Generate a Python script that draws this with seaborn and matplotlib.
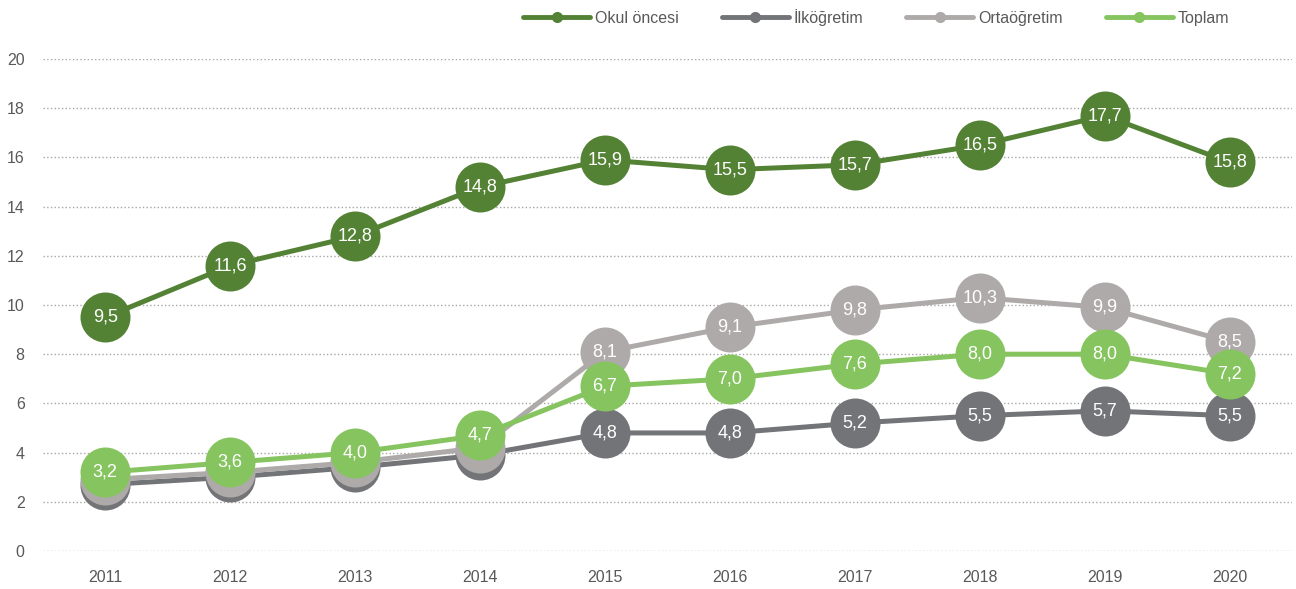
import numpy as np
import pandas as pd
import matplotlib.pyplot as plt
import seaborn as sns
from matplotlib.lines import Line2D
from matplotlib.ticker import FixedLocator

sns.set_style('white')
plt.rcParams['font.family'] = ['Liberation Sans', 'DejaVu Sans']

# veriler
years = ['2011', '2012', '2013', '2014', '2015', '2016', '2017', '2018', '2019', '2020']
okul_oncesi = [9.5, 11.6, 12.8, 14.8, 15.9, 15.5, 15.7, 16.5, 17.7, 15.8]
ilkogretim = [2.7, 3.0, 3.4, 3.9, 4.8, 4.8, 5.2, 5.5, 5.7, 5.5]
ortaogretim = [2.9, 3.2, 3.6, 4.2, 8.1, 9.1, 9.8, 10.3, 9.9, 8.5]
toplam = [3.2, 3.6, 4.0, 4.7, 6.7, 7.0, 7.6, 8.0, 8.0, 7.2]

series_names = ['Okul öncesi', 'İlköğretim', 'Ortaöğretim', 'Toplam']
series_vals = [okul_oncesi, ilkogretim, ortaogretim, toplam]
colors = ['#548235', '#737477', '#AEAAAA', '#86C45F']
zorders = [6, 3, 4, 5]  # ilköğretim en altta
# 2011-2014 arası gri daireler Toplam'ın altında kalıyor, etiketleri görünmüyor
hidden_years = {'İlköğretim': years[:4], 'Ortaöğretim': years[:4]}

x = np.arange(len(years))

fig, ax = plt.subplots(figsize=(12.96, 5.89), dpi=100)
fig.subplots_adjust(left=0.033, right=0.997, bottom=0.0645, top=0.8998)

for name, vals, col, z in zip(series_names, series_vals, colors, zorders):
    df = pd.DataFrame({'x': x, 'y': vals})
    sns.lineplot(data=df, x='x', y='y', ax=ax, color=col, linewidth=3.6,
                 marker='o', markersize=36, markeredgewidth=0, zorder=z)
    for xi, yr, v in zip(x, years, vals):
        if yr in hidden_years.get(name, []):
            continue
        ax.text(xi, v, f'{v:.1f}'.replace('.', ','), ha='center', va='center',
                color='white', fontsize=13, zorder=z + 0.5)

ax.set_xlim(-0.5, 9.5)
ax.set_ylim(0, 20)
ax.set_yticks(np.arange(0, 21, 2))
ax.set_xticks(x)
ax.set_xticklabels(years)
ax.xaxis.set_minor_locator(FixedLocator(np.arange(-0.5, 10, 1)))
ax.tick_params(axis='x', which='major', length=0, pad=14, labelsize=11.5, labelcolor='#595959')
ax.tick_params(axis='x', which='minor', length=4, width=0.9, color='#A6A6A6', direction='out')
ax.tick_params(axis='y', length=0, pad=13, labelsize=11.5, labelcolor='#595959')
ax.grid(axis='y', linestyle=':', color='#A6A6A6', linewidth=1)
ax.set_axisbelow(True)
for s in ax.spines.values():
    s.set_visible(False)
ax.set_xlabel('')
ax.set_ylabel('')

handles = [Line2D([0], [0], color=c, linewidth=3.5, marker='o', markersize=7)
           for c in colors]
fig.legend(handles, series_names, loc='center', bbox_to_anchor=(0.676, 0.971),
           ncol=4, frameon=False, fontsize=11.5, handlelength=4.2, columnspacing=2.7,
           handletextpad=0.3, labelcolor='#595959')

fig.savefig('out.png', dpi=100)
